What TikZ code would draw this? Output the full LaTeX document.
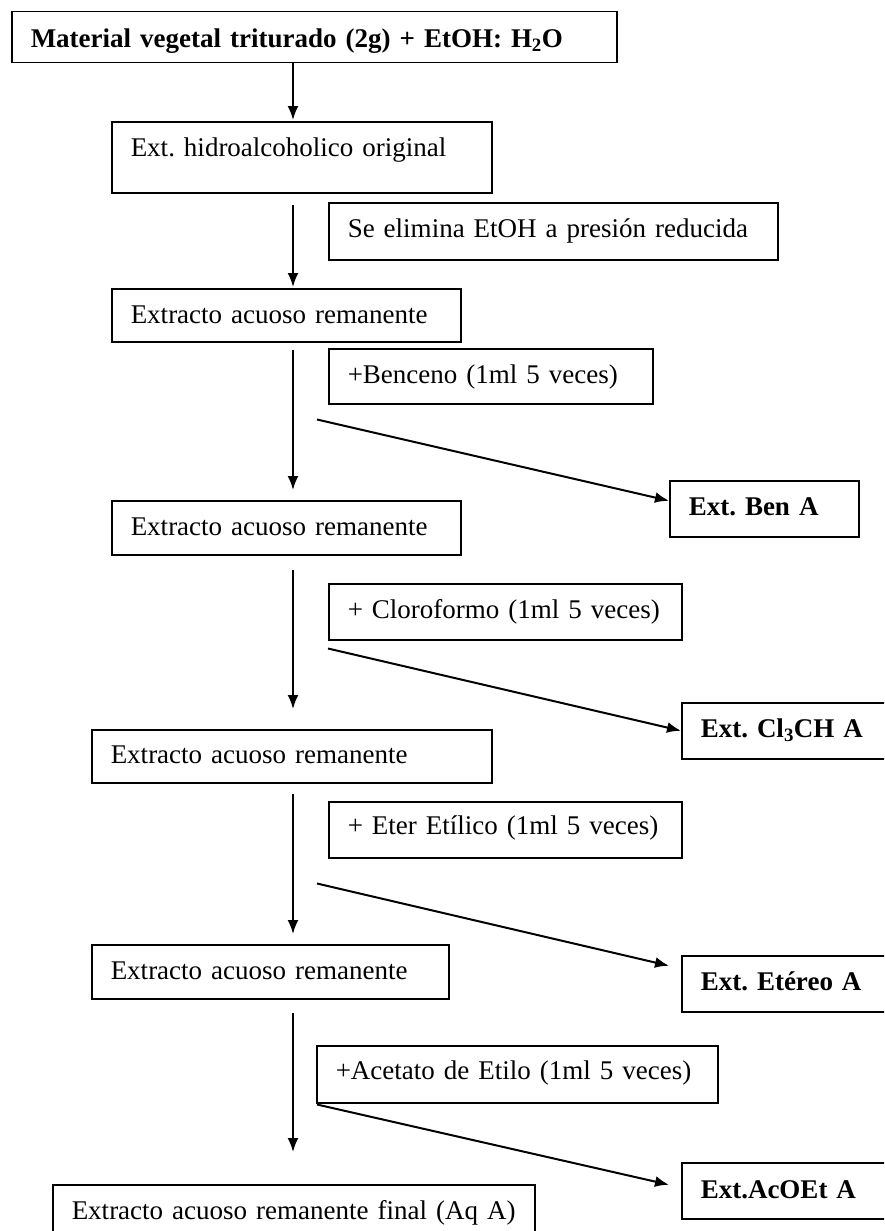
\documentclass[tikz,border=0pt]{standalone}
\usepackage{fontspec}
\setmainfont{Liberation Serif}
\usetikzlibrary{calc,arrows.meta}
\frenchspacing
\begin{document}
\begin{tikzpicture}[x=1pt,y=-1pt,
  box/.style={draw=black, line width=1.5pt, anchor=north west, inner xsep=19pt, inner ysep=0pt,
    align=left, font=\fontsize{27}{32}\selectfont\frenchspacing},
  bbox/.style={box, font=\fontsize{27}{32}\selectfont\bfseries\frenchspacing},
  flow/.style={draw=black, line width=2pt, -{Latex[length=14pt,width=11pt]}}]
\useasboundingbox (0,0) rectangle (884,1231);
\clip (0,0) rectangle (884,1231);
\fill[white] (0,0) rectangle (884,1231);
% main column
\node[bbox, text width=567pt, text height=36pt, text depth=15pt] (top) at (11,11) {Material vegetal triturado (2g) + EtOH: H\textsubscript{2}O};
\node[box, text width=342pt, text height=35pt, text depth=36pt] (hidro) at (111,121) {Ext. hidroalcoholico original};
\node[box, text width=411pt, text height=35pt, text depth=22pt] (elim) at (328,202) {Se elimina EtOH a presión reducida};
\node[box, text width=311pt, text height=35pt, text depth=18pt] (ext1) at (111,288) {Extracto acuoso remanente};
\node[box, text width=286pt, text height=35pt, text depth=20pt] (benc) at (328,348) {+Benceno (1ml 5 veces)};
\node[bbox, text width=151pt, text height=35pt, text depth=21pt] (benA) at (669,480) {Ext. Ben A};
\node[box, text width=311pt, text height=35pt, text depth=19pt] (ext2) at (111,500) {Extracto acuoso remanente};
\node[box, text width=315pt, text height=35pt, text depth=21pt] (clor) at (328,583) {+ Cloroformo (1ml 5 veces)};
\node[bbox, text width=181pt, text height=35pt, text depth=21pt] (clA) at (681,702) {Ext. Cl\textsubscript{3}CH A};
\node[box, text width=362pt, text height=34pt, text depth=19pt] (ext3) at (91,729) {Extracto acuoso remanente};
\node[box, text width=315pt, text height=33pt, text depth=23pt] (eter) at (328,801) {+ Eter Etílico (1ml 5 veces)};
\node[bbox, text width=181pt, text height=35pt, text depth=21pt] (eterA) at (681,955) {Ext. Etéreo A};
\node[box, text width=319pt, text height=35pt, text depth=19pt] (ext4) at (91,944) {Extracto acuoso remanente};
\node[box, text width=363pt, text height=34pt, text depth=23pt] (acet) at (316,1045) {+Acetato de Etilo (1ml 5 veces)};
\node[bbox, text width=181pt, text height=36pt, text depth=20pt] (acA) at (681,1162) {Ext.AcOEt A};
\node[box, text width=444pt, text height=35pt, text depth=41pt] (final) at (52,1184) {Extracto acuoso remanente final (Aq A)};
% vertical flow
\coordinate (ax) at (293,0);
\draw[flow, shorten >=1pt] (top.south -| ax) -- (hidro.north -| ax);
\draw[flow, shorten <=11pt, shorten >=1pt] (hidro.south -| ax) -- (ext1.north -| ax);
\draw[flow, shorten <=7pt, shorten >=10pt] (ext1.south -| ax) -- (ext2.north -| ax);
\draw[flow, shorten <=14pt, shorten >=20pt] (ext2.south -| ax) -- (ext3.north -| ax);
\draw[flow, shorten <=10pt, shorten >=10pt] (ext3.south -| ax) -- (ext4.north -| ax);
\draw[flow, shorten <=13pt, shorten >=32pt] (ext4.south -| ax) -- (final.north -| ax);
% side extractions
\draw[flow] ($(benc.south west)+(-11,15)$) -- ($(benA.west)+(0,-8)$);
\draw[flow] ($(clor.south west)+(0,8)$) -- (clA.west);
\draw[flow] ($(eter.south west)+(-11,25)$) -- ($(eterA.west)+(-12,-18)$);
\draw[flow] ($(acet.south west)+(1,1)$) -- ($(acA.west)+(-12,-6)$);
\end{tikzpicture}
\end{document}
